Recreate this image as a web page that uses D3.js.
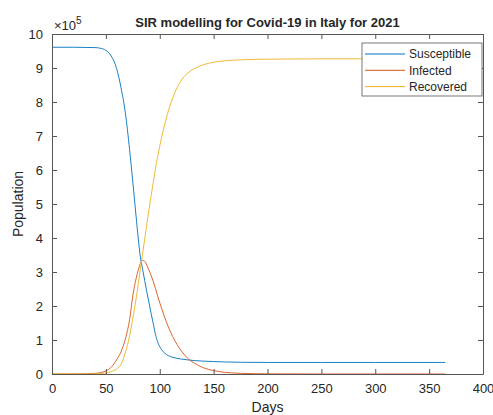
<!DOCTYPE html>
<html>
<head>
<meta charset="utf-8">
<script src="https://cdn.jsdelivr.net/npm/d3@7"></script>
<style>
  body { margin: 0; background: #fff; }
  text { font-family: "Liberation Sans", Arial, Helvetica, sans-serif; fill: #262626; }
</style>
</head>
<body>
<div id="viz"></div>
<script>
// datos (poblacion en unidades de 1e5)
const days = [0, 20, 40, 45, 50, 55, 60, 64, 68, 72, 75, 78, 80, 82, 84, 86, 88, 90, 92, 94, 96, 98,
  101, 104, 108, 112, 116, 120, 126, 132, 140, 150, 160, 175, 200, 250, 300, 365];
const susceptible = [9.61, 9.61, 9.60, 9.58, 9.52, 9.35, 8.98, 8.43, 7.70, 6.60, 5.65, 4.65, 4.00, 3.45, 3.10, 2.75, 2.42, 2.10, 1.78, 1.48, 1.17, 0.95,
  0.75, 0.63, 0.54, 0.49, 0.46, 0.44, 0.415, 0.395, 0.38, 0.365, 0.355, 0.345, 0.34, 0.34, 0.34, 0.34];
const infected = [0, 0, 0.02, 0.04, 0.09, 0.20, 0.42, 0.65, 1.02, 1.60, 2.30, 2.80, 3.05, 3.25, 3.34, 3.32, 3.20, 3.06, 2.90, 2.72, 2.52, 2.30,
  2.00, 1.72, 1.38, 1.10, 0.87, 0.68, 0.46, 0.32, 0.19, 0.10, 0.05, 0.02, 0.005, 0, 0, 0];
const recovered = [0, 0, 0.005, 0.01, 0.03, 0.07, 0.15, 0.28, 0.62, 1.12, 1.64, 2.20, 2.64, 3.08, 3.52, 3.96, 4.40, 4.84, 5.24, 5.64, 6.04, 6.38,
  6.85, 7.26, 7.74, 8.12, 8.42, 8.64, 8.85, 8.98, 9.09, 9.17, 9.21, 9.24, 9.26, 9.27, 9.27, 9.27];
const seriesNames = ["Susceptible", "Infected", "Recovered"];
const seriesColors = ["#0072BD", "#D95319", "#EDB120"];
const xTicks = [0, 50, 100, 150, 200, 250, 300, 350, 400];
const yTicks = [0, 1, 2, 3, 4, 5, 6, 7, 8, 9, 10];

const W = 493, H = 415;
const margin = { top: 34, right: 10, bottom: 41, left: 52 };
const width = 431, height = 340;

const svg = d3.select("#viz").append("svg")
  .attr("width", W).attr("height", H);
const g = svg.append("g")
  .attr("transform", `translate(${margin.left},${margin.top})`);

const x = d3.scaleLinear().domain([0, 400]).range([0, width]);
const y = d3.scaleLinear().domain([0, 10]).range([height, 0]);

// lineas
const allSeries = [susceptible, infected, recovered];
const line = d3.line()
  .x(d => x(d[0]))
  .y(d => y(d[1]))
  .curve(d3.curveMonotoneX);
allSeries.forEach((vals, i) => {
  g.append("path")
    .datum(days.map((dd, k) => [dd, vals[k]]))
    .attr("fill", "none")
    .attr("stroke", seriesColors[i])
    .attr("stroke-width", 0.9)
    .attr("d", line);
});

// ejes (caja con ticks hacia dentro)
const axisColor = "#555";
function styleAxis(sel) {
  sel.selectAll("path").attr("stroke", axisColor).attr("stroke-width", 1);
  sel.selectAll("line").attr("stroke", axisColor);
  sel.selectAll("text").style("font-size", "13px").attr("fill", "#262626");
}
g.append("g")
  .attr("transform", `translate(0,${height})`)
  .call(d3.axisBottom(x).tickValues(xTicks).tickSizeInner(-5).tickSizeOuter(0).tickPadding(10))
  .call(styleAxis);
g.append("g")
  .call(d3.axisLeft(y).tickValues(yTicks).tickSizeInner(-5).tickSizeOuter(0).tickPadding(9))
  .call(styleAxis);
g.append("g")
  .call(d3.axisTop(x).tickValues(xTicks).tickSizeInner(-5).tickSizeOuter(0).tickFormat(""))
  .call(styleAxis);
g.append("g")
  .attr("transform", `translate(${width},0)`)
  .call(d3.axisRight(y).tickValues(yTicks).tickSizeInner(-5).tickSizeOuter(0).tickFormat(""))
  .call(styleAxis);

// exponente
const expo = g.append("text")
  .attr("x", 2).attr("y", -4)
  .style("font-size", "13px");
expo.append("tspan").text("\u00d710");
expo.append("tspan").attr("dy", -6).style("font-size", "10px").text("5");

// titulo y etiquetas
svg.append("text")
  .attr("x", margin.left + width / 2).attr("y", 27)
  .attr("text-anchor", "middle")
  .style("font-size", "13px").style("font-weight", "bold")
  .text("SIR modelling for Covid-19 in Italy for 2021");
svg.append("text")
  .attr("x", margin.left + width / 2).attr("y", 412)
  .attr("text-anchor", "middle")
  .style("font-size", "14px")
  .text("Days");
svg.append("text")
  .attr("transform", `translate(23,${margin.top + height / 2}) rotate(-90)`)
  .attr("text-anchor", "middle")
  .style("font-size", "14px")
  .text("Population");

// leyenda
const leg = svg.append("g").attr("transform", "translate(362,43)");
leg.append("rect")
  .attr("width", 120).attr("height", 53)
  .attr("fill", "#fff").attr("stroke", "#555").attr("stroke-width", 0.8);
seriesNames.forEach((name, i) => {
  const ly = 11 + i * 16.3;
  leg.append("line")
    .attr("x1", 3).attr("x2", 43).attr("y1", ly).attr("y2", ly)
    .attr("stroke", seriesColors[i]).attr("stroke-width", 1);
  leg.append("text")
    .attr("x", 47).attr("y", ly + 4.2)
    .style("font-size", "12px")
    .text(name);
});
</script>
</body>
</html>
